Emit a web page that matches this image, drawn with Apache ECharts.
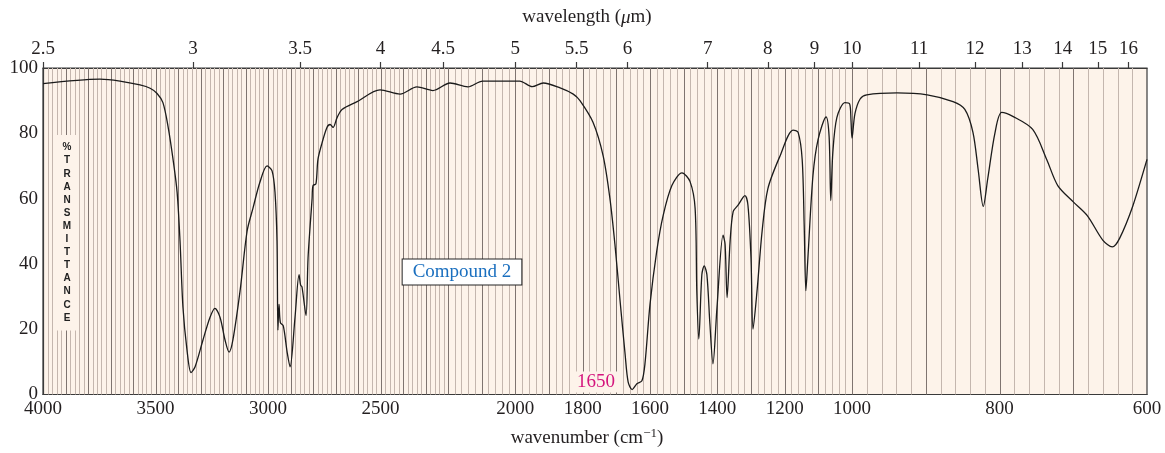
<!DOCTYPE html>
<html>
<head>
<meta charset="utf-8">
<script src="https://cdn.jsdelivr.net/npm/echarts@6/dist/echarts.min.js"></script>
<style>
html, body { margin: 0; padding: 0; background: #fff; }
#ir { width: 1165px; height: 453px; }
</style>
</head>
<body>
<div id="ir"></div>
<script>
// spectrum: wavenumber (cm-1) / % transmittance
var wavenumbers = [4000, 3747, 3658, 3569, 3524, 3493, 3467, 3444, 3422, 3404, 3391, 3378, 3360, 3342, 3324,
    3289, 3258, 3236, 3213, 3191, 3173, 3156, 3124, 3093, 3067, 3036, 3004, 2982, 2969, 2960, 2956,
    2951, 2945, 2932, 2915, 2902, 2880, 2862, 2855, 2849, 2831, 2822, 2804, 2800, 2787, 2778, 2760,
    2738, 2724, 2711, 2693, 2671, 2604, 2502, 2413, 2338, 2267, 2194, 2141, 2097, 1987, 1950, 1917,
    1867, 1828, 1808, 1769, 1739, 1719, 1704, 1689, 1674, 1665, 1653, 1639, 1624, 1615, 1600, 1580,
    1561, 1535, 1505, 1481, 1466, 1461, 1455, 1446, 1439, 1431, 1422, 1413, 1401, 1383, 1377, 1371,
    1362, 1353, 1339, 1318, 1309, 1300, 1294, 1282, 1267, 1250, 1214, 1175, 1160, 1148, 1142, 1137,
    1131, 1116, 1101, 1077, 1068, 1063, 1057, 1045, 1021, 1007, 1003, 1000, 996, 989, 980, 939,
    898, 863, 847, 836, 829, 822, 816, 806, 797, 782, 755, 736, 721, 700, 681, 660, 647, 637, 619, 600];
var transmittance = [95.2, 96.6, 96.0, 94.8, 93.8, 92.2, 89.4, 82, 72, 62, 47, 26.7, 13.6, 6.7, 8.5,
    16.7, 23.6, 26.4, 23.6, 16.7, 13, 16.7, 31.8, 50, 57, 65, 70, 68.5, 62, 47, 19.7,
    27.6, 22, 21, 13, 8.5, 23.6, 36.7, 33.5, 33, 24.2, 41.8, 60, 64, 64.5, 72, 77,
    81.8, 82.7, 81.8, 84.8, 87.3, 89.7, 93.3, 92, 94.2, 93.1, 95.4, 94.2, 96, 96, 94.3, 95.4,
    93.9, 92, 90, 83.3, 73, 60, 45.8, 28.8, 12.4, 3.9, 1.5, 3.3, 4.2, 9.4, 27.6, 43.9,
    54.8, 64, 67.9, 65.2, 57, 31.8, 17, 36.7, 39.4, 36.7, 21.5, 9.4, 26.7, 48.8, 46, 29.7,
    47, 56, 57.9, 60.9, 57.9, 41.8, 20, 31.8, 50, 63, 73, 81, 80.3, 72, 51.8, 31.8,
    41.8, 67, 78, 85, 79, 59.4, 74, 84.8, 89.4, 89, 84, 78.5, 86, 90.5, 91.8, 92.4,
    91.8, 89.7, 87.3, 80.3, 69, 57.6, 66, 80.3, 86.4, 85.2, 81.2, 72, 64, 59, 54.8, 47.3, 45.2, 47.9, 57.9, 72];

var wnTicks = [4000, 3500, 3000, 2500, 2000, 1800, 1600, 1400, 1200, 1000, 800, 600];
var umTicks = [2.5, 3, 3.5, 4, 4.5, 5, 5.5, 6, 7, 8, 9, 10, 11, 12, 13, 14, 15, 16];
var yTicks = [0, 20, 40, 60, 80, 100];

// the chart paper changes scale at 2200 and 1000 cm-1
var scaleWn = [4000, 2200, 1000, 600];
var scalePos = [0, 405, 809, 1104];

function toPos(wn) {
    for (var i = 0; i < scaleWn.length - 1; i++) {
        if (wn >= scaleWn[i + 1] || i === scaleWn.length - 2) {
            var t = (scaleWn[i] - wn) / (scaleWn[i] - scaleWn[i + 1]);
            return scalePos[i] + t * (scalePos[i + 1] - scalePos[i]);
        }
    }
}
function fromPos(p) {
    for (var i = 0; i < scalePos.length - 1; i++) {
        if (p <= scalePos[i + 1] || i === scalePos.length - 2) {
            var t = (p - scalePos[i]) / (scalePos[i + 1] - scalePos[i]);
            return scaleWn[i] - t * (scaleWn[i] - scaleWn[i + 1]);
        }
    }
}

// paper rulings every 20 cm-1, darker every 100
var paperLines = [];
for (var w = 3980; w > 600; w -= 20) paperLines.push(w);

var serif = '"Liberation Serif", "DejaVu Serif", serif';
var ink = '#231f20';

var chart = echarts.init(document.getElementById('ir'));
var option = {
    animation: false,
    backgroundColor: '#fff',
    grid: {
        left: 43, right: 18, top: 68, bottom: 55,
        show: true,
        backgroundColor: '#fdf3ea',
        borderColor: '#3a3a3a',
        borderWidth: 1.2
    },
    xAxis: [
        {
            type: 'value',
            position: 'bottom',
            min: 0,
            max: scalePos[scalePos.length - 1],
            name: '{t|wavenumber (cm}{s|−1}{t|)}',
            nameLocation: 'middle',
            nameGap: 33,
            nameTextStyle: {
                padding: [0, 16, 0, 0],
                rich: {
                    t: { fontFamily: serif, fontSize: 19, color: ink },
                    s: { fontFamily: serif, fontSize: 13, color: ink, verticalAlign: 'top', padding: [0, 0, 9, 0] }
                }
            },
            axisLine: { show: true, lineStyle: { color: '#3a3a3a', width: 1.2 } },
            axisTick: { show: false },
            splitLine: { show: false },
            axisLabel: {
                customValues: wnTicks.map(toPos),
                formatter: function (v) { return String(Math.round(fromPos(v))); },
                fontFamily: serif,
                fontSize: 19,
                color: ink,
                margin: 5
            }
        },
        {
            type: 'value',
            position: 'top',
            min: 0,
            max: scalePos[scalePos.length - 1],
            name: '{t|wavelength (}{i|μ}{t|m)}',
            nameLocation: 'middle',
            nameGap: 41,
            nameTextStyle: {
                padding: [0, 16, 0, 0],
                rich: {
                    t: { fontFamily: serif, fontSize: 19, color: ink },
                    i: { fontFamily: serif, fontSize: 19, color: ink, fontStyle: 'italic' }
                }
            },
            axisLine: { show: true, lineStyle: { color: '#3a3a3a', width: 1.2 } },
            axisTick: {
                show: true,
                customValues: umTicks.map(function (u) { return toPos(10000 / u); }),
                length: 6,
                lineStyle: { color: '#3a3a3a', width: 1.2 }
            },
            splitLine: { show: false },
            axisLabel: {
                customValues: umTicks.map(function (u) { return toPos(10000 / u); }),
                formatter: function (v) {
                    return String(Math.round(10000 / fromPos(v) * 10) / 10);
                },
                fontFamily: serif,
                fontSize: 19,
                color: ink,
                margin: 9
            }
        }
    ],
    yAxis: {
        type: 'value',
        min: 0,
        max: 100,
        interval: 20,
        axisLine: { show: true, lineStyle: { color: '#3a3a3a', width: 1.2 } },
        axisTick: { show: false },
        splitLine: { show: false },
        axisLabel: {
            customValues: yTicks,
            fontFamily: serif,
            fontSize: 19,
            color: ink,
            margin: 5
        }
    },
    series: [
        {
            name: 'paper',
            type: 'line',
            data: [],
            silent: true,
            z: 1,
            markLine: {
                silent: true,
                symbol: 'none',
                animation: false,
                label: { show: false },
                emphasis: { disabled: true },
                data: paperLines.map(function (w) {
                    return {
                        // snapped to the half pixel so the rulings stay crisp
                        xAxis: Math.round(toPos(w)) + 0.5,
                        lineStyle: {
                            color: w % 100 === 0 ? '#7f7470' : '#c4b6ae',
                            width: 1,
                            type: 'solid'
                        }
                    };
                })
            }
        },
        {
            name: 'Compound 2',
            type: 'line',
            data: wavenumbers.map(function (w, i) { return [toPos(w), transmittance[i]]; }),
            showSymbol: false,
            smooth: 0.3,
            silent: true,
            z: 5,
            lineStyle: { color: '#1b1b1b', width: 1.3 }
        }
    ],
    graphic: [
        {
            type: 'text',
            x: 67,
            y: 135,
            z: 10,
            style: {
                text: '%\nT\nR\nA\nN\nS\nM\nI\nT\nT\nA\nN\nC\nE',
                font: 'bold 10px "Liberation Sans", Arial, sans-serif',
                fill: '#222',
                align: 'center',
                verticalAlign: 'top',
                lineHeight: 13.1,
                backgroundColor: '#fdf3ea',
                padding: [6, 6, 6, 6]
            }
        },
        {
            type: 'text',
            x: 462,
            y: 272,
            z: 10,
            style: {
                text: 'Compound 2',
                font: '19px ' + serif,
                fill: '#1a6fbf',
                align: 'center',
                verticalAlign: 'middle',
                backgroundColor: '#fff',
                borderColor: '#222',
                borderWidth: 1,
                padding: [3, 10, 3, 10]
            }
        },
        {
            type: 'text',
            x: 596,
            y: 382,
            z: 10,
            style: {
                text: '1650',
                font: '19px ' + serif,
                fill: '#d4157d',
                align: 'center',
                verticalAlign: 'middle',
                backgroundColor: '#fdf3ea',
                padding: [1, 3, 1, 3]
            }
        }
    ]
};
chart.setOption(option);
</script>
</body>
</html>
